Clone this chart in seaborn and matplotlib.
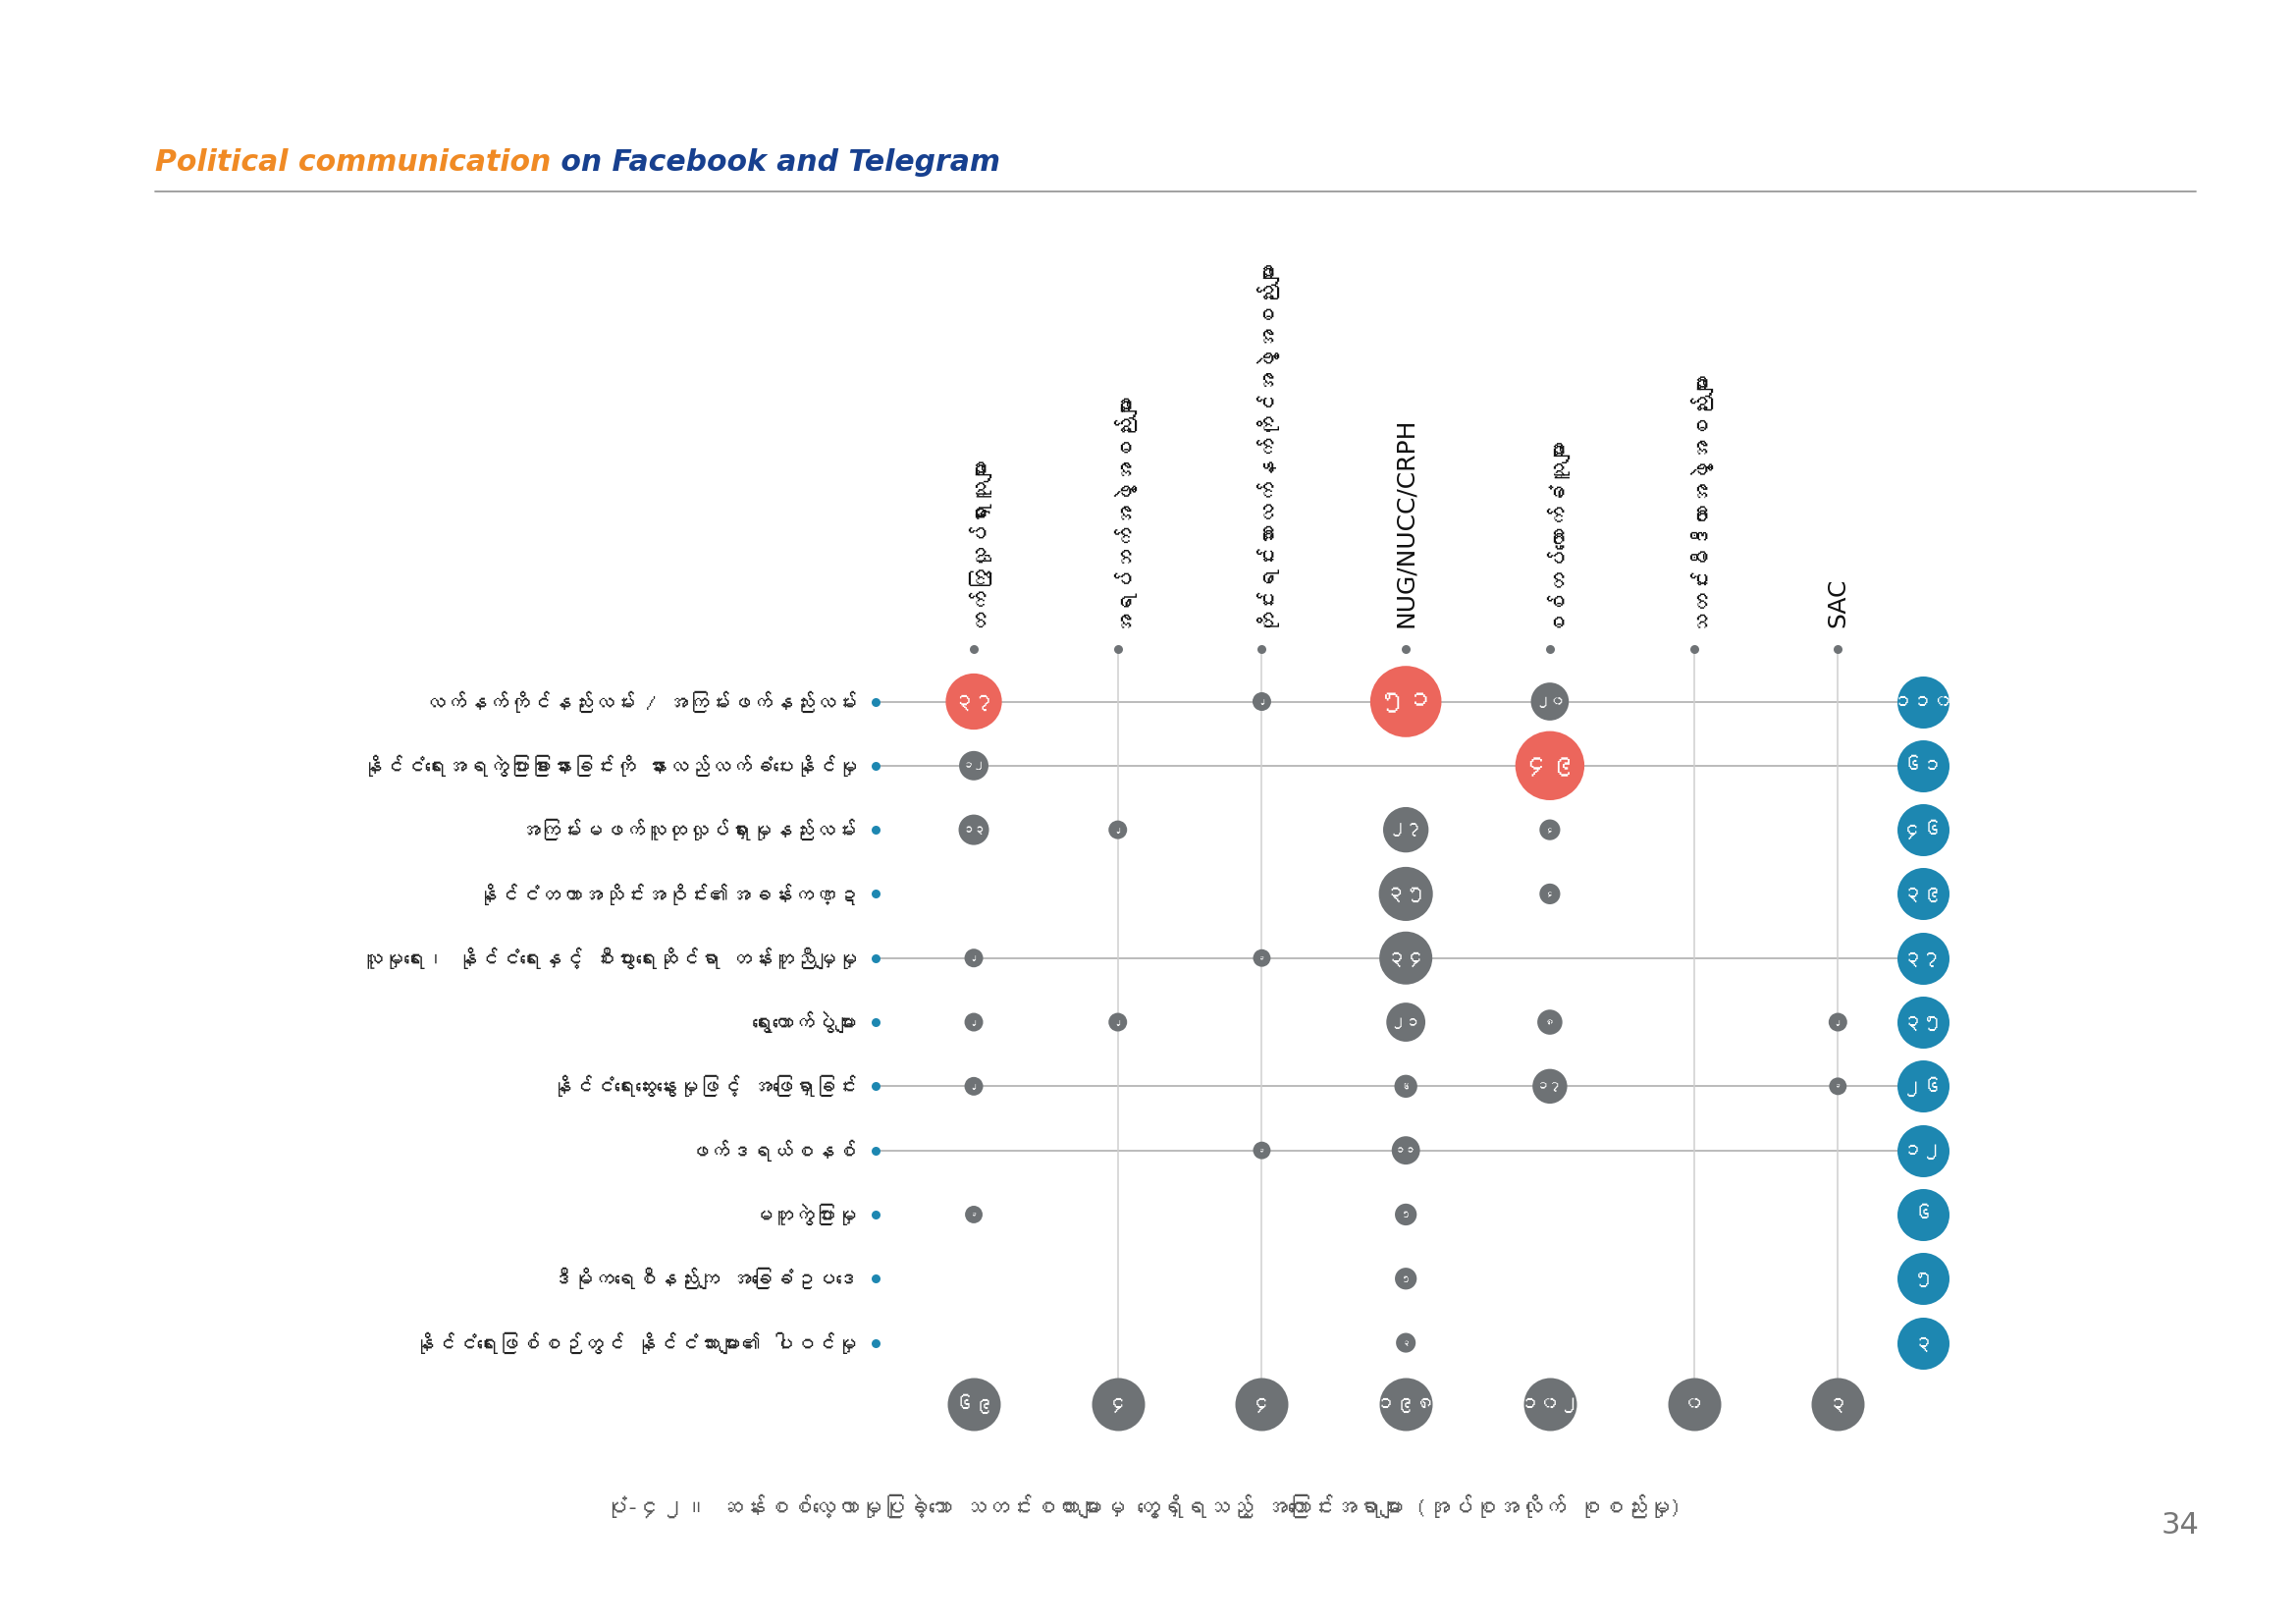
import numpy as np
import pandas as pd
import matplotlib
matplotlib.use("Agg")
import matplotlib.pyplot as plt
from matplotlib.lines import Line2D
from matplotlib import font_manager
from matplotlib.ft2font import FT2Font
import seaborn as sns

# ---------------- data ----------------
groups = [
    "တက်ကြွလှုပ်ရှားသူများ",
    "အရပ်ဘက်အဖွဲ့အစည်းများ",
    "တိုင်းရင်းသားလက်နက်ကိုင်အဖွဲ့အစည်းများ",
    "NUG/NUCC/CRPH",
    "စစ်တပ်ထောက်ခံသူများ",
    "သတင်းမီဒီယာအဖွဲ့အစည်းများ",
    "SAC",
]
topics = [
    "လက်နက်ကိုင်နည်းလမ်း / အကြမ်းဖက်နည်းလမ်း",
    "နိုင်ငံရေးအရကွဲပြားခြားနားခြင်းကို နားလည်လက်ခံပေးနိုင်မှု",
    "အကြမ်းမဖက်လူထုလှုပ်ရှားမှုနည်းလမ်း",
    "နိုင်ငံတကာအသိုင်းအဝိုင်း၏အခန်းကဏ္ဍ",
    "လူမှုရေး၊ နိုင်ငံရေးနှင့် စီးပွားရေးဆိုင်ရာ တန်းတူညီမျှမှု",
    "ရွေးကောက်ပွဲများ",
    "နိုင်ငံရေးဆွေးနွေးမှုဖြင့် အဖြေရှာခြင်း",
    "ဖက်ဒရယ်စနစ်",
    "မတူကွဲပြားမှု",
    "ဒီမိုကရေစီနည်းကျ အခြေခံဥပဒေ",
    "နိုင်ငံရေးဖြစ်စဉ်တွင် နိုင်ငံသားများ၏ ပါဝင်မှု",
]
# counts per topic (rows) for each group (columns); 0 = not mentioned
activists = [37, 12, 13, 0, 2, 2, 2, 0, 1, 0, 0]
cso = [0, 0, 2, 0, 0, 2, 0, 0, 0, 0, 0]
eao = [2, 0, 0, 0, 1, 0, 0, 1, 0, 0, 0]
nug = [51, 0, 27, 35, 34, 21, 6, 11, 5, 5, 3]
military_supporters = [20, 49, 4, 4, 0, 8, 17, 0, 0, 0, 0]
media = [0, 0, 0, 0, 0, 0, 0, 0, 0, 0, 0]
sac = [0, 0, 0, 0, 0, 2, 1, 0, 0, 0, 0]
topic_totals = [110, 61, 46, 39, 37, 35, 26, 12, 6, 5, 3]
group_totals = [69, 4, 4, 198, 102, 0, 3]

title_a = "Political communication"
title_b = " on Facebook and Telegram"
caption = ("ပုံ-၄၂။ ဆန်းစစ်လေ့လာမှုပြုခဲ့သော သတင်းစကားများမှ "
           "တွေ့ရှိရသည့် အကြောင်းအရာများ (အုပ်စုအလိုက် စုစည်းမှု)")
page_no = "34"

# ---------------- style ----------------
RED = "#EC665C"
GRAY = "#6E7275"
BLUE = "#1D87B1"
HLINE = "#A8A8A8"
VLINE = "#CFCFCF"
HIGHLIGHT_ABOVE = 35
line_rows = [0, 1, 4, 6, 7]
line_cols = [1, 2, 5, 6]

sns.set_theme(style="white")


def find_font(cp):
    for f in font_manager.fontManager.ttflist:
        try:
            if cp in FT2Font(f.fname).get_charmap():
                return f.name
        except Exception:
            pass
    return None


mm_font = find_font(0x1000)
fams = ([mm_font] if mm_font else []) + ["Noto Sans", "DejaVu Sans"]
plt.rcParams["font.family"] = fams

MY = str.maketrans("0123456789", "၀၁၂၃၄၅၆၇၈၉")


def my_num(v):
    return str(int(v)).translate(MY)


DPI = 100
fig = plt.figure(figsize=(23.39, 16.54), dpi=DPI)
fig.patch.set_facecolor("white")

ax = fig.add_axes([0.3614, 0.110, 0.5018, 0.4975])
ax.set_xlim(-1, 7)
ax.set_ylim(11.6, -1)
ax.axis("off")

LABEL_X = -0.68
HEAD_Y = -0.82
TOTAL_X = 6.59
BOTTOM_Y = 10.96


def diam_px(v):
    return 16.8 + 1.094 * v


def s_of(dpx):
    return (dpx * 72.0 / DPI) ** 2


# long-form table
series = [activists, cso, eao, nug, military_supporters, media, sac]
rows = []
for gi, g in enumerate(groups):
    for ti, t in enumerate(topics):
        rows.append({"group": g, "topic": t, "value": series[gi][ti]})
df = pd.DataFrame(rows)
df = df[df["value"] > 0].copy()
df["x"] = df["group"].map({g: i for i, g in enumerate(groups)})
df["y"] = df["topic"].map({t: i for i, t in enumerate(topics)})
df["tone"] = np.where(df["value"] > HIGHLIGHT_ABOVE, "high", "base")
size_map = {v: s_of(diam_px(v)) for v in sorted(df["value"].unique())}

# grid lines
for r in line_rows:
    ax.plot([LABEL_X, TOTAL_X], [r, r], color=HLINE, lw=1.1, zorder=1)
for c in line_cols:
    ax.plot([c, c], [HEAD_Y, BOTTOM_Y], color=VLINE, lw=1.1, zorder=1)

# body bubbles
sns.scatterplot(data=df, x="x", y="y", size="value", sizes=size_map,
                hue="tone", palette={"high": RED, "base": GRAY},
                legend=False, linewidth=0, ax=ax, zorder=3)
for _, r in df.iterrows():
    d = diam_px(r["value"])
    ax.text(r["x"], r["y"], my_num(r["value"]), ha="center", va="center",
            color="white", fontsize=max(4.5, 0.28 * d), zorder=4)

# topic totals (right, blue)
tdf = pd.DataFrame({"topic": topics, "total": topic_totals})
tdf["y"] = np.arange(len(topics))
tdf["x"] = TOTAL_X
sns.scatterplot(data=tdf, x="x", y="y", s=s_of(53), color=BLUE,
                linewidth=0, legend=False, ax=ax, zorder=3)
for _, r in tdf.iterrows():
    ax.text(r["x"], r["y"], my_num(r["total"]), ha="center", va="center",
            color="white", fontsize=15, zorder=4)

# group totals (bottom, gray)
gdf = pd.DataFrame({"group": groups, "total": group_totals})
gdf["x"] = np.arange(len(groups))
gdf["y"] = BOTTOM_Y
sns.scatterplot(data=gdf, x="x", y="y", s=s_of(54), color=GRAY,
                linewidth=0, legend=False, ax=ax, zorder=3)
for _, r in gdf.iterrows():
    ax.text(r["x"], r["y"], my_num(r["total"]), ha="center", va="center",
            color="white", fontsize=15, zorder=4)

# row labels with blue dots
ldf = pd.DataFrame({"topic": topics, "y": np.arange(len(topics)), "x": LABEL_X})
sns.scatterplot(data=ldf, x="x", y="y", s=s_of(9), color=BLUE,
                linewidth=0, legend=False, ax=ax, zorder=3)
for i, t in enumerate(topics):
    ax.annotate(t, (LABEL_X, i), xytext=(-14, 0), textcoords="offset points",
                ha="right", va="center", fontsize=15.5, color="#222222",
                annotation_clip=False)

# column headers with gray dots
hdf = pd.DataFrame({"group": groups, "x": np.arange(len(groups)), "y": HEAD_Y})
sns.scatterplot(data=hdf, x="x", y="y", s=s_of(9), color=GRAY,
                linewidth=0, legend=False, ax=ax, zorder=3)
for i, g in enumerate(groups):
    latin = g.isascii()
    ax.annotate(g, (i, HEAD_Y), xytext=(0, 16), textcoords="offset points",
                rotation=90, ha="center", va="bottom",
                fontsize=18 if latin else 16, color="#111111",
                family=["DejaVu Sans"] if latin else fams,
                annotation_clip=False)

# title
TITLE_FONT = dict(fontsize=21.5, style="oblique", weight="bold",
                  family=["DejaVu Sans"])
t1 = fig.text(158 / 2339, 1 - 180 / 1654, title_a, color="#F08A24",
              va="bottom", ha="left", **TITLE_FONT)
ax.annotate(title_b, xy=(1, 0), xycoords=t1, va="bottom", ha="left",
            color="#17408F", annotation_clip=False, **TITLE_FONT)
fig.add_artist(Line2D([158 / 2339, 2237 / 2339], [1 - 195 / 1654] * 2,
                      color="#9A9A9A", lw=1.3))

# caption and page number
fig.text(1164 / 2339, 1 - 1534 / 1654, caption, ha="center", va="center",
         fontsize=17, color="#555555")
fig.text(2221 / 2339, 1 - 1554 / 1654, page_no, ha="center", va="center",
         fontsize=22, color="#777777",
         family=["Liberation Sans Narrow", "DejaVu Sans"])

fig.savefig("out.png", dpi=DPI, facecolor="white")
